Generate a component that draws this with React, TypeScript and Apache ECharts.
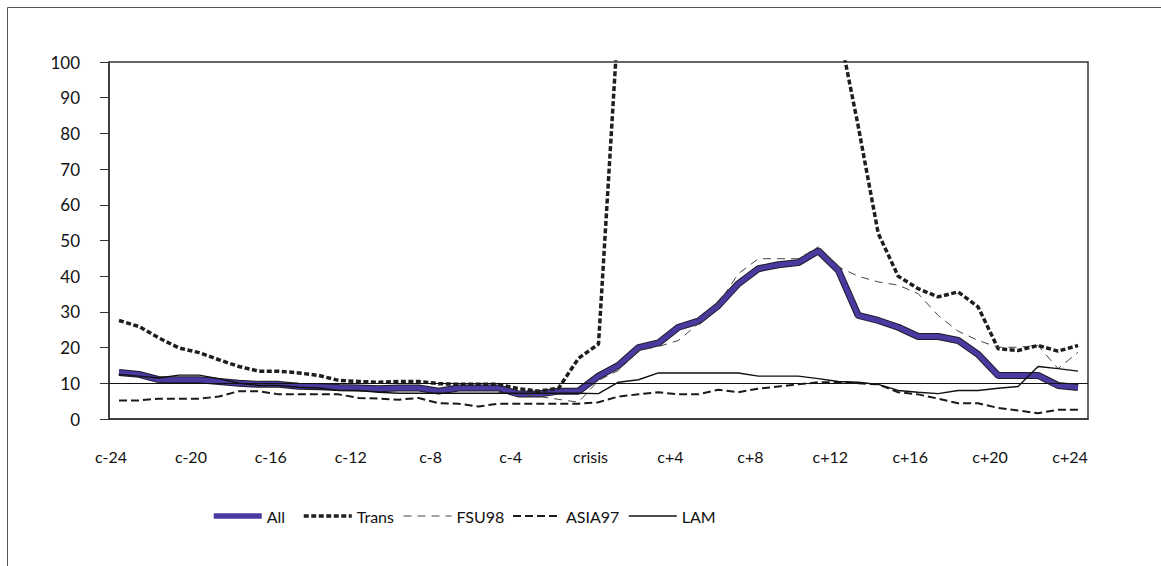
import React, { useEffect, useRef } from "react";
import * as echarts from "echarts";

// Months around the crisis date
const categories = [
  "c-24", "c-23", "c-22", "c-21", "c-20", "c-19", "c-18", "c-17", "c-16", "c-15", "c-14", "c-13",
  "c-12", "c-11", "c-10", "c-9", "c-8", "c-7", "c-6", "c-5", "c-4", "c-3", "c-2", "c-1",
  "crisis", "c+1", "c+2", "c+3", "c+4", "c+5", "c+6", "c+7", "c+8", "c+9", "c+10", "c+11",
  "c+12", "c+13", "c+14", "c+15", "c+16", "c+17", "c+18", "c+19", "c+20", "c+21", "c+22", "c+23", "c+24",
];

const allValues = [
  13, 12.5, 11, 11, 11, 10.5, 10, 9.7, 9.7, 9.2, 9, 8.8,
  8.7, 8.5, 8.7, 8.7, 7.8, 8.7, 8.7, 8.7, 7, 7, 7.8, 7.8,
  12, 15, 20, 21.3, 25.7, 27.4, 31.8, 37.9, 42.1, 43.2, 43.8, 47.1,
  41.7, 29, 27.6, 25.7, 23.1, 23.1, 22, 18.1, 12.2, 12.2, 12.2, 9.4, 8.8,
];

const transValues = [
  27.6, 25.9, 22.7, 19.9, 18.6, 16.6, 14.7, 13.4, 13.4, 12.9, 12.2, 10.8,
  10.5, 10.3, 10.5, 10.5, 9.9, 9.7, 9.7, 9.7, 8.5, 7.8, 8.6, 17,
  21, 113, 180, 260, 340, 420, 470, 440, 380, 300, 220, 160,
  110, 82, 52, 40, 36.5, 34.2, 35.6, 31.4, 19.7, 19.2, 20.6, 19, 20.6,
];

const fsu98Values = [
  null, null, null, null, null, null, null, null, null, null, null, null,
  null, null, null, null, null, null, null, 7.5, 7, 6.3, 5.5, 4.7,
  10.8, 13.6, 19.2, 20.3, 22, 26.7, 32.3, 40.7, 44.9, 44.9, 44.9, 48.2,
  42.6, 40, 38.4, 37.5, 35.1, 29, 24.6, 22, 20.1, 20.1, 20.6, 14.1, 18.7,
];

const asia97Values = [
  5.2, 5.2, 5.7, 5.7, 5.7, 6.3, 7.8, 7.8, 6.9, 6.9, 6.9, 6.9,
  5.9, 5.7, 5.4, 5.9, 4.4, 4.3, 3.5, 4.3, 4.3, 4.3, 4.3, 4.3,
  4.7, 6.3, 6.9, 7.5, 6.9, 6.9, 8.2, 7.5, 8.5, 9.1, 9.7, 10.3,
  10.3, 10, 9.7, 7.5, 6.9, 5.7, 4.4, 4.4, 3.1, 2.4, 1.6, 2.6, 2.6,
];

const lamValues = [
  12.5, 12, 11.5, 12.3, 12.3, 11.3, 10, 9.4, 9.4, 8.9, 8.7, 8,
  8, 7.5, 7.2, 7.2, 7.2, 7.2, 7.2, 7.2, 7.2, 7.2, 7.2, 7.2,
  7.1, 10.3, 11, 12.9, 12.9, 12.9, 12.9, 12.9, 12, 12, 12, 11.3,
  10.5, 10.3, 9.7, 8, 7.5, 7.1, 8, 8, 8.6, 9.1, 14.7, 14.1, 13.4,
];

const legendNames = ["All", "Trans", "FSU98", "ASIA97", "LAM"];
const legendLefts = [206, 297, 398, 507, 623];
const legendLineWidths = [5.5, 3.5, 1, 2, 1.6];
const referenceLevel = 10;

const FONT = "Lato, 'Open Sans', sans-serif";

export default function App() {
  const ref = useRef<HTMLDivElement>(null);

  useEffect(() => {
    document.body.style.margin = "0";
    if (!ref.current) return;
    const chart = echarts.init(ref.current, undefined, { renderer: "svg" });

    // one legend block per series so each entry sits at its own place
    const legends = legendNames.map((name, i) => ({
      data: [name],
      left: legendLefts[i],
      top: 503,
      itemWidth: 48,
      itemHeight: 14,
      itemGap: 0,
      itemStyle: { opacity: 0 },
      lineStyle: { width: legendLineWidths[i] },
      textStyle: { fontFamily: FONT, fontSize: 16, color: "#111" },
    }));

    const option = {
      animation: false,
      backgroundColor: "#ffffff",
      graphic: [
        {
          type: "rect",
          silent: true,
          shape: { x: 7.5, y: 7.5, width: 1200, height: 600 },
          style: { fill: "none", stroke: "#555", lineWidth: 1 },
        },
      ],
      grid: {
        left: 109,
        top: 62,
        right: 73,
        bottom: 147,
        show: true,
        borderColor: "#333",
        borderWidth: 1.5,
        backgroundColor: "transparent",
      },
      legend: legends,
      xAxis: {
        type: "category",
        data: categories,
        boundaryGap: true,
        axisLine: { lineStyle: { color: "#333", width: 1.5 } },
        axisTick: { interval: 0, length: 6, lineStyle: { color: "#333", width: 1 } },
        axisLabel: {
          interval: 3,
          margin: 29,
          fontFamily: FONT,
          fontSize: 16,
          color: "#111",
          padding: [0, 16, 0, 0],
        },
        splitLine: { show: false },
      },
      yAxis: {
        type: "value",
        min: 0,
        max: 100,
        interval: 10,
        axisLine: { show: true, lineStyle: { color: "#333", width: 1.5 } },
        axisTick: { show: true, length: 9, lineStyle: { color: "#333", width: 1 } },
        axisLabel: { margin: 29, fontFamily: FONT, fontSize: 17, color: "#111" },
        splitLine: { show: false },
      },
      series: [
        {
          name: "All border",
          type: "line",
          data: allValues,
          symbol: "none",
          z: 2,
          lineStyle: { color: "#1c1c2a", width: 7 },
        },
        {
          name: "All",
          type: "line",
          data: allValues,
          symbol: "none",
          z: 3,
          itemStyle: { color: "#4a3aa0" },
          lineStyle: { color: "#4a3aa0", width: 5 },
        },
        {
          name: "Trans",
          type: "line",
          data: transValues,
          symbol: "none",
          z: 4,
          itemStyle: { color: "#1e1e1e" },
          lineStyle: { color: "#1e1e1e", width: 3.5, type: [5, 2.5] },
        },
        {
          name: "FSU98",
          type: "line",
          data: fsu98Values,
          symbol: "none",
          z: 5,
          itemStyle: { color: "#444" },
          lineStyle: { color: "#444", width: 1, type: [8, 6] },
        },
        {
          name: "ASIA97",
          type: "line",
          data: asia97Values,
          symbol: "none",
          z: 5,
          itemStyle: { color: "#1a1a1a" },
          lineStyle: { color: "#1a1a1a", width: 2, type: [8, 4] },
        },
        {
          name: "LAM",
          type: "line",
          data: lamValues,
          symbol: "none",
          z: 5,
          itemStyle: { color: "#111" },
          lineStyle: { color: "#111", width: 1.4 },
          markLine: {
            silent: true,
            symbol: ["none", "none"],
            label: { show: false },
            lineStyle: { color: "#111", width: 1, type: "solid" },
            data: [{ yAxis: referenceLevel }],
          },
        },
      ],
    };

    chart.setOption(option);
    return () => chart.dispose();
  }, []);

  return <div ref={ref} style={{ width: 1161, height: 566 }} />;
}
